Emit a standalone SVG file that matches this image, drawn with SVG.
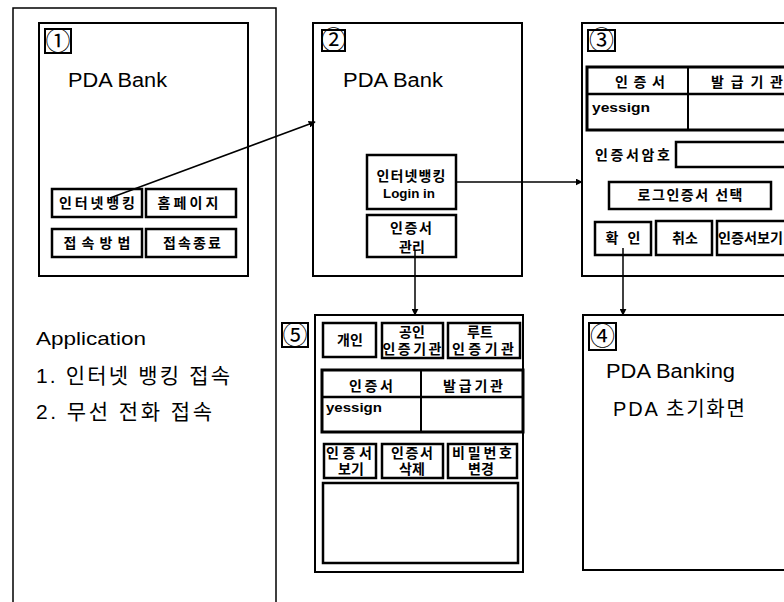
<svg xmlns="http://www.w3.org/2000/svg" width="784" height="602" viewBox="0 0 784 602">
<defs>
<marker id="ah" viewBox="0 0 10 10" refX="9" refY="5" markerWidth="7" markerHeight="7" orient="auto" markerUnits="userSpaceOnUse">
<path d="M0,0 L10,5 L0,10 z" fill="#000"/>
</marker>
<style>
.frame{fill:none;stroke:#000;stroke-width:1.5}
.box{fill:#fff;stroke:#000;stroke-width:2}
.btn{fill:#fff;stroke:#000;stroke-width:2.5}
.tbl{fill:none;stroke:#000;stroke-width:3}
.lbl{fill:#fff;stroke:#000;stroke-width:2}
.conn{fill:none;stroke:#000;stroke-width:1.5}
text{font-family:"Liberation Sans","Noto Sans CJK KR",sans-serif;fill:#000}
.big{font-size:20px}
.mid{font-size:19px}
.kor{font-size:21px}
.b{font-size:14px;font-weight:bold;text-anchor:middle}
.bl{font-size:14px;font-weight:bold}
.lat{font-size:13px;font-weight:bold}
.num{font-family:"Noto Sans CJK KR",sans-serif;font-size:25px;text-anchor:middle}
</style>
</defs>
<rect width="784" height="602" fill="#fff"/>

<g id="app-frame">
<path class="frame" d="M13,604 L13,8 L276,8 L276,604"/>
<text class="mid" x="36" y="345" textLength="110" lengthAdjust="spacingAndGlyphs">Application</text>
<text class="kor" x="36" y="383" textLength="194" lengthAdjust="spacing">1. 인터넷 뱅킹 접속</text>
<text class="kor" x="36" y="419" textLength="176" lengthAdjust="spacing">2. 무선 전화 접속</text>
</g>

<g id="screen1">
<rect class="box" x="39" y="23" width="209" height="253"/>
<rect class="lbl" x="45" y="29" width="26" height="24"/>
<text class="num" x="58" y="50">①</text>
<text class="big" x="68" y="87" textLength="99" lengthAdjust="spacingAndGlyphs">PDA Bank</text>
<rect class="btn" x="52" y="189" width="90" height="28"/>
<text class="b" x="97" y="208" textLength="76" lengthAdjust="spacing">인터넷뱅킹</text>
<rect class="btn" x="146" y="189" width="90" height="28"/>
<text class="b" x="188" y="208" textLength="61" lengthAdjust="spacing">홈페이지</text>
<rect class="btn" x="52" y="229" width="90" height="28"/>
<text class="b" x="97" y="248" textLength="67" lengthAdjust="spacing">접속방법</text>
<rect class="btn" x="146" y="229" width="90" height="28"/>
<text class="b" x="192" y="248" textLength="58" lengthAdjust="spacing">접속종료</text>
</g>

<g id="screen2">
<rect class="box" x="313" y="23" width="209" height="253"/>
<rect class="lbl" x="322" y="30" width="23" height="21"/>
<text class="num" x="333.5" y="49">②</text>
<text class="big" x="343" y="87" textLength="100" lengthAdjust="spacingAndGlyphs">PDA Bank</text>
<rect class="btn" x="367" y="155" width="89" height="54"/>
<text class="b" x="411" y="181" textLength="69" lengthAdjust="spacing">인터넷뱅킹</text>
<text class="b" x="409" y="198" style="font-size:13px" textLength="52" lengthAdjust="spacingAndGlyphs">Login in</text>
<rect class="btn" x="367" y="215" width="89" height="42"/>
<text class="b" x="411" y="233" textLength="42" lengthAdjust="spacing">인증서</text>
<text class="b" x="412" y="252">관리</text>
</g>

<g id="screen3">
<rect class="box" x="582" y="23" width="210" height="253"/>
<rect class="lbl" x="588" y="30" width="27" height="21"/>
<text class="num" x="601.5" y="49">③</text>
<rect class="tbl" x="587" y="67" width="205" height="63"/>
<line x1="587" y1="94" x2="792" y2="94" stroke="#000" stroke-width="2.5"/>
<line x1="688" y1="67" x2="688" y2="130" stroke="#000" stroke-width="2"/>
<text class="b" x="640" y="87" textLength="50" lengthAdjust="spacing">인증서</text>
<text class="b" x="747" y="87" textLength="72" lengthAdjust="spacing">발급기관</text>
<text class="lat" x="592" y="112" textLength="58" lengthAdjust="spacingAndGlyphs">yessign</text>
<text class="bl" x="595" y="160" textLength="75" lengthAdjust="spacing">인증서암호</text>
<rect class="btn" x="676" y="142" width="116" height="25"/>
<rect class="btn" x="609" y="182" width="162" height="27"/>
<text class="b" x="690" y="200" textLength="105" lengthAdjust="spacing">로그인증서 선택</text>
<rect class="btn" x="595" y="222" width="56" height="33"/>
<text class="b" x="623" y="243" textLength="35" lengthAdjust="spacing">확인</text>
<rect class="btn" x="656" y="221" width="56" height="34"/>
<text class="b" x="685" y="243">취소</text>
<rect class="btn" x="717" y="221" width="75" height="34"/>
<text class="bl" x="718" y="243" textLength="65" lengthAdjust="spacingAndGlyphs">인증서보기</text>
</g>

<g id="screen4">
<rect class="box" x="583" y="315" width="210" height="255"/>
<rect class="lbl" x="589" y="323" width="27" height="27"/>
<text class="num" x="602.5" y="345">④</text>
<text class="big" x="606" y="378" textLength="129" lengthAdjust="spacingAndGlyphs">PDA Banking</text>
<text class="big" x="613" y="416" textLength="132" lengthAdjust="spacing">PDA 초기화면</text>
</g>

<g id="screen5">
<rect class="lbl" x="282" y="323" width="26" height="24"/>
<text class="num" x="295" y="344">⑤</text>
<rect class="box" x="315" y="315" width="208" height="257"/>
<rect class="btn" x="323" y="323" width="53" height="34"/>
<text class="b" x="350" y="345">개인</text>
<rect class="btn" x="382" y="323" width="61" height="35"/>
<text class="b" x="412" y="337">공인</text>
<text class="b" x="412" y="354" textLength="59" lengthAdjust="spacing">인증기관</text>
<rect class="btn" x="448" y="323" width="72" height="35"/>
<text class="b" x="480" y="337">루트</text>
<text class="b" x="483" y="354" textLength="62" lengthAdjust="spacing">인증기관</text>
<rect class="tbl" x="322" y="370" width="201" height="62"/>
<line x1="322" y1="397" x2="523" y2="397" stroke="#000" stroke-width="2.5"/>
<line x1="421" y1="370" x2="421" y2="432" stroke="#000" stroke-width="2"/>
<text class="b" x="371" y="391" textLength="44" lengthAdjust="spacing">인증서</text>
<text class="b" x="473" y="391" textLength="60" lengthAdjust="spacing">발급기관</text>
<text class="lat" x="326" y="412" textLength="56" lengthAdjust="spacingAndGlyphs">yessign</text>
<rect class="btn" x="324" y="444" width="52" height="34"/>
<text class="b" x="349" y="458" textLength="46" lengthAdjust="spacing">인증서</text>
<text class="b" x="351" y="474">보기</text>
<rect class="btn" x="382" y="444" width="61" height="34"/>
<text class="b" x="412" y="458" textLength="42" lengthAdjust="spacing">인증서</text>
<text class="b" x="412" y="474">삭제</text>
<rect class="btn" x="448" y="444" width="69" height="34"/>
<text class="b" x="482" y="458" textLength="60" lengthAdjust="spacing">비밀번호</text>
<text class="b" x="481" y="474">변경</text>
<rect class="btn" x="323" y="483" width="195" height="80"/>
</g>

<g id="connectors">
<line class="conn" x1="110" y1="198" x2="315" y2="122" marker-end="url(#ah)"/>
<line class="conn" x1="456" y1="182" x2="582" y2="182" marker-end="url(#ah)"/>
<line class="conn" x1="415" y1="250" x2="415" y2="315" marker-end="url(#ah)"/>
<line class="conn" x1="623" y1="248" x2="623" y2="315" marker-end="url(#ah)"/>
</g>
</svg>
